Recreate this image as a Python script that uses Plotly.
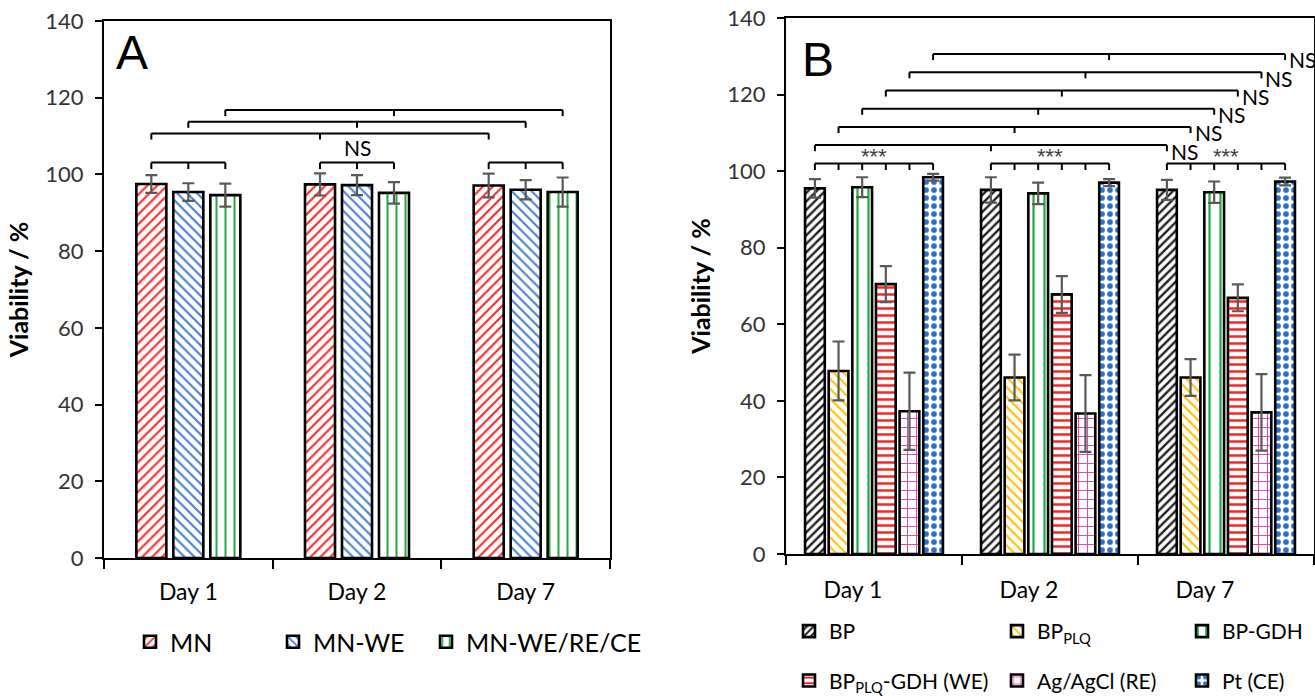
import plotly.graph_objects as go

# ---------------- data ----------------
days = ["Day 1", "Day 2", "Day 7"]

# Panel A
a_names = ["MN", "MN-WE", "MN-WE/RE/CE"]
a_mn = [97.5, 97.4, 97.1]
a_mn_err = [2.3, 2.9, 3.1]
a_mnwe = [95.4, 97.2, 96.0]
a_mnwe_err = [2.3, 2.6, 2.5]
a_mnall = [94.6, 95.2, 95.4]
a_mnall_err = [3.0, 2.8, 3.8]
a_within_sig = ["", "NS", ""]

# Panel B
b_names = ["BP", "BP<sub>PLQ</sub>", "BP-GDH",
           "BP<sub>PLQ</sub>-GDH (WE)", "Ag/AgCl (RE)", "Pt (CE)"]
b_bp = [95.5, 95.1, 95.1]
b_bp_err = [2.4, 3.3, 2.6]
b_plq = [47.8, 46.1, 46.1]
b_plq_err = [7.7, 6.0, 4.8]
b_gdh = [95.8, 94.2, 94.5]
b_gdh_err = [2.6, 2.8, 2.8]
b_plqgdh = [70.5, 67.8, 66.9]
b_plqgdh_err = [4.7, 4.8, 3.5]
b_agcl = [37.3, 36.7, 37.0]
b_agcl_err = [10.1, 10.0, 10.0]
b_pt = [98.4, 97.0, 97.3]
b_pt_err = [0.9, 0.9, 1.0]
b_within_sig = ["***", "***", "***"]
b_across_sig = ["NS", "NS", "NS", "NS", "NS", "NS"]

# ---------------- styling ----------------
W, H = 1315, 696
FONT = "Lato, 'Liberation Sans', sans-serif"
ERRC = "#595959"
xpos = list(range(len(days)))

fig = go.Figure()


def err(arr):
    return dict(type="data", array=arr, color=ERRC, thickness=2.2, width=6)


def add_bars(series, errs, names, pats, xa, ya, legends, slot, width):
    n = len(series)
    for k in range(n):
        off = -n * slot / 2 + k * slot + (slot - width) / 2
        fig.add_trace(go.Bar(
            x=xpos, y=series[k], name=names[k], xaxis=xa, yaxis=ya,
            width=width, offset=off, legend=legends[k], legendgroup=names[k],
            marker=dict(color="white", line=dict(color="black", width=2.6),
                        pattern=pats[k]),
            error_y=err(errs[k]),
        ))


def centers(k, n, slot):
    return [x - n * slot / 2 + (k + 0.5) * slot for x in xpos]


def pat(shape, color, size, solidity):
    return dict(shape=shape, fgcolor=color, bgcolor="white", fgopacity=1,
                size=size, solidity=solidity)


# Panel A bars
A_SLOT, A_W = 0.2193, 0.178
a_series = [a_mn, a_mnwe, a_mnall]
a_errs = [a_mn_err, a_mnwe_err, a_mnall_err]
a_pats = [
    pat("/", "#FF2A2A", 7, 0.3),
    pat("\\", "#4A7FD0", 7, 0.3),
    pat("|", "#1EAA3C", 9, 0.22),
]
add_bars(a_series, a_errs, a_names, a_pats, "x", "y",
         ["legend", "legend2", "legend3"], A_SLOT, A_W)

# Panel B bars
B_SLOT, B_W = 0.1343, 0.112
b_series = [b_bp, b_plq, b_gdh, b_plqgdh, b_agcl, b_pt]
b_errs = [b_bp_err, b_plq_err, b_gdh_err, b_plqgdh_err, b_agcl_err, b_pt_err]
b_pats = [
    pat("/", "#202020", 6, 0.4),
    pat("\\", "#FFC000", 7, 0.3),
    pat("|", "#1EAA3C", 11, 0.2),
    pat("-", "#FF2020", 7, 0.35),
    pat("+", "#E040A0", 9, 0.2),
    pat(".", "#2F6FD0", 8, 0.4),
]
add_bars(b_series, b_errs, b_names, b_pats, "x2", "y2",
         ["legend4", "legend5", "legend6", "legend4", "legend5", "legend6"],
         B_SLOT, B_W)

# ---------------- significance brackets ----------------
shapes = []
annots = []


def bracket(xs, y, leg, xr, yr):
    shapes.append(dict(type="line", xref=xr, yref=yr, x0=min(xs), x1=max(xs),
                       y0=y, y1=y, line=dict(color="black", width=2)))
    for xv in xs:
        shapes.append(dict(type="line", xref=xr, yref=yr, x0=xv, x1=xv,
                           y0=y, y1=y - leg, line=dict(color="black", width=2)))


# Panel A: within day
for d in range(len(days)):
    xs = [centers(k, 3, A_SLOT)[d] for k in range(3)]
    bracket(xs, 103.1, 1.7, "x", "y")
    if a_within_sig[d]:
        annots.append(dict(x=xpos[d], y=103.1, xref="x", yref="y", text=a_within_sig[d],
                           showarrow=False, yanchor="bottom", yshift=1,
                           font=dict(family=FONT, size=21, color="black")))
# Panel A: across days
for k in range(3):
    bracket(centers(k, 3, A_SLOT), 110.7 + 3.05 * k, 1.6, "x", "y")

# Panel B: within day
for d in range(len(days)):
    xs = [centers(k, 6, B_SLOT)[d] for k in range(6)]
    bracket(xs, 102.0, 1.7, "x2", "y2")
    annots.append(dict(x=xpos[d], y=102.0, xref="x2", yref="y2", text=b_within_sig[d],
                       showarrow=False, yanchor="bottom", yshift=-8,
                       font=dict(family="Liberation Sans, Arial", size=22, color="#404040")))
# Panel B: across days
for k in range(6):
    yv = 106.8 + 4.76 * k
    xs = centers(k, 6, B_SLOT)
    bracket(xs, yv, 1.6, "x2", "y2")
    annots.append(dict(x=max(xs), y=yv, xref="x2", yref="y2", text=b_across_sig[k],
                       showarrow=False, xanchor="left", yanchor="middle",
                       xshift=2, yshift=-6,
                       font=dict(family=FONT, size=21, color="black")))

# panel letters
annots.append(dict(x=114 / W, y=1 - 24 / H, xref="paper", yref="paper", text="A",
                   showarrow=False, xanchor="left", yanchor="top",
                   font=dict(family="Liberation Sans, Arial", size=48, color="black")))
annots.append(dict(x=800 / W, y=1 - 31 / H, xref="paper", yref="paper", text="B",
                   showarrow=False, xanchor="left", yanchor="top",
                   font=dict(family="Liberation Sans, Arial", size=48, color="black")))

# ---------------- axes ----------------
tickfont = dict(family=FONT, size=22, color="#333333")


def xaxis(domain, tickshift, standoff):
    return dict(domain=domain, range=[-0.5, 2.5], tickvals=[x + tickshift for x in xpos],
                ticktext=days, ticks="", showline=True, linecolor="black",
                linewidth=2, mirror=True, showgrid=False, zeroline=False,
                ticklabelstandoff=standoff,
                tickfont=dict(family=FONT, size=23, color="black"),
                minor=dict(tickvals=[-0.5, 0.5, 1.5, 2.5], ticks="outside",
                           ticklen=9, tickwidth=2, tickcolor="black", showgrid=False),
                fixedrange=True)


def yaxis(domain, anchor):
    return dict(domain=domain, anchor=anchor, range=[0, 140], dtick=20,
                ticks="outside", ticklen=7, tickwidth=2, tickcolor="black",
                showline=True, linecolor="black", linewidth=2, mirror=True,
                showgrid=False, zeroline=False, tickfont=tickfont,
                ticklabelstandoff=7,
                title=dict(text="<b>Viability / %</b>", standoff=10,
                           font=dict(family=FONT, size=25, color="black")))


def legend(xpix, ypix, size, gap):
    return dict(x=xpix / W, y=1 - ypix / H, xanchor="left", yanchor="top",
                orientation="v", bgcolor="rgba(0,0,0,0)", tracegroupgap=gap,
                font=dict(family=FONT, size=size, color="black"))


fig.update_layout(
    width=W, height=H, margin=dict(l=0, r=0, t=0, b=0, autoexpand=False),
    paper_bgcolor="white", plot_bgcolor="white",
    barmode="overlay", showlegend=True,
    xaxis=dict(xaxis([104 / W, 610 / W], 0, 12), anchor="y"),
    yaxis=yaxis([1 - 558 / H, 1 - 21 / H], "x"),
    xaxis2=dict(xaxis([786 / W, 1314 / W], -0.12, 14), anchor="y2"),
    yaxis2=yaxis([1 - 554 / H, 1 - 18 / H], "x2"),
    legend=legend(130, 619, 25, 12),
    legend2=legend(273, 619, 25, 12),
    legend3=legend(426, 619, 25, 12),
    legend4=legend(789, 611, 21, 19),
    legend5=legend(997, 611, 21, 19),
    legend6=legend(1182, 611, 21, 19),
    shapes=shapes, annotations=annots,
)

fig.write_html("out.html", config={"displayModeBar": False},
               post_script="document.body.style.margin='0';")
